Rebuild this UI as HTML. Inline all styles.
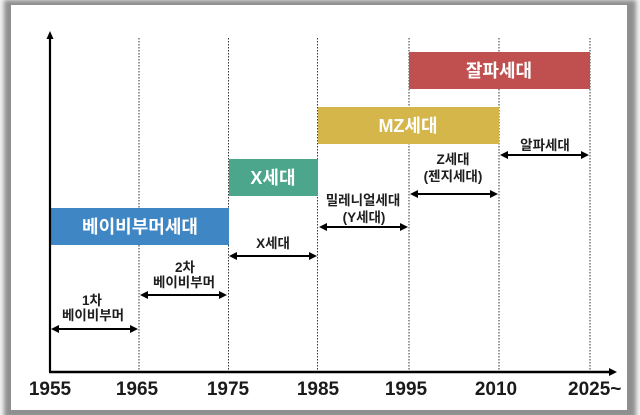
<!DOCTYPE html>
<html>
<head>
<meta charset="utf-8">
<style>
html,body{margin:0;padding:0;background:#f2f2f2;}
body{width:640px;height:415px;overflow:hidden;}
svg{display:block;}
text{font-family:"Liberation Sans","Noto Sans CJK KR",sans-serif;font-weight:bold;}
</style>
</head>
<body>
<svg width="640" height="415" viewBox="0 0 640 415" xmlns="http://www.w3.org/2000/svg">
  <defs>
    <filter id="blur" x="-5%" y="-5%" width="110%" height="110%">
      <feGaussianBlur stdDeviation="2"/>
    </filter>
  </defs>
  <!-- frame -->
  <rect x="4" y="0" width="632" height="418" fill="#8f8f8f" filter="url(#blur)"/>
  <rect x="11" y="5" width="616" height="405" fill="#ffffff"/>

  <!-- dotted verticals -->
  <g stroke="#333" stroke-width="1" stroke-dasharray="1.5,1.5">
    <line x1="139" y1="38" x2="139" y2="372"/>
    <line x1="228.5" y1="38" x2="228.5" y2="372"/>
    <line x1="317.5" y1="38" x2="317.5" y2="372"/>
    <line x1="409" y1="38" x2="409" y2="372"/>
    <line x1="499" y1="38" x2="499" y2="372"/>
    <line x1="590" y1="38" x2="590" y2="372"/>
  </g>

  <!-- bars -->
  <rect x="409" y="52" width="181" height="37" fill="#c0504f"/>
  <rect x="318" y="107" width="181" height="37" fill="#d5b64b"/>
  <rect x="229" y="159" width="89" height="37" fill="#4ba68b"/>
  <rect x="50" y="208" width="179" height="37" fill="#3f86c4"/>

  <g fill="#ffffff" font-size="18" text-anchor="middle">
    <text x="499" y="77">잘파세대</text>
    <text x="408" y="132">MZ세대</text>
    <text x="273" y="184">X세대</text>
    <text x="140" y="233">베이비부머세대</text>
  </g>

  <!-- axes -->
  <line x1="50" y1="372" x2="50" y2="38" stroke="#000" stroke-width="2.2"/>
  <polygon points="50,31 46.5,39 53.5,39" fill="#000"/>
  <line x1="49" y1="372" x2="610" y2="372" stroke="#000" stroke-width="2.5"/>
  <polygon points="617,372 609,368 609,376" fill="#000"/>

  <!-- double arrows -->
  <g stroke="#000" stroke-width="2">
    <line x1="58" y1="329" x2="131" y2="329"/>
    <line x1="147" y1="295" x2="220" y2="295"/>
    <line x1="236" y1="256" x2="310" y2="256"/>
    <line x1="326" y1="227" x2="401" y2="227"/>
    <line x1="417" y1="194" x2="491" y2="194"/>
    <line x1="507" y1="155" x2="582" y2="155"/>
  </g>
  <g fill="#000">
    <polygon points="51,329 59,325 59,333"/><polygon points="138,329 130,325 130,333"/>
    <polygon points="140,295 148,291 148,299"/><polygon points="227,295 219,291 219,299"/>
    <polygon points="229,256 237,252 237,260"/><polygon points="317,256 309,252 309,260"/>
    <polygon points="319,227 327,223 327,231"/><polygon points="408,227 400,223 400,231"/>
    <polygon points="410,194 418,190 418,198"/><polygon points="498,194 490,190 490,198"/>
    <polygon points="500,155 508,151 508,159"/><polygon points="589,155 581,151 581,159"/>
  </g>

  <!-- labels -->
  <g fill="#1e1e1e" font-size="13.5" text-anchor="middle">
    <text x="545" y="150">알파세대</text>
    <text x="453" y="164">Z세대</text>
    <text x="453" y="181">(젠지세대)</text>
    <text x="363" y="205">밀레니얼세대</text>
    <text x="364" y="222">(Y세대)</text>
    <text x="273" y="248">X세대</text>
    <text x="185" y="272">2차</text>
    <text x="184" y="287">베이비부머</text>
    <text x="92" y="305">1차</text>
    <text x="93" y="320">베이비부머</text>
  </g>

  <!-- tick labels -->
  <g fill="#1a1a1a" font-size="19" text-anchor="middle">
    <text x="50" y="395">1955</text>
    <text x="137" y="395">1965</text>
    <text x="228" y="395">1975</text>
    <text x="318" y="395">1985</text>
    <text x="406" y="395">1995</text>
    <text x="496" y="395">2010</text>
    <text x="568" y="395" text-anchor="start">2025~</text>
  </g>
</svg>
</body>
</html>
